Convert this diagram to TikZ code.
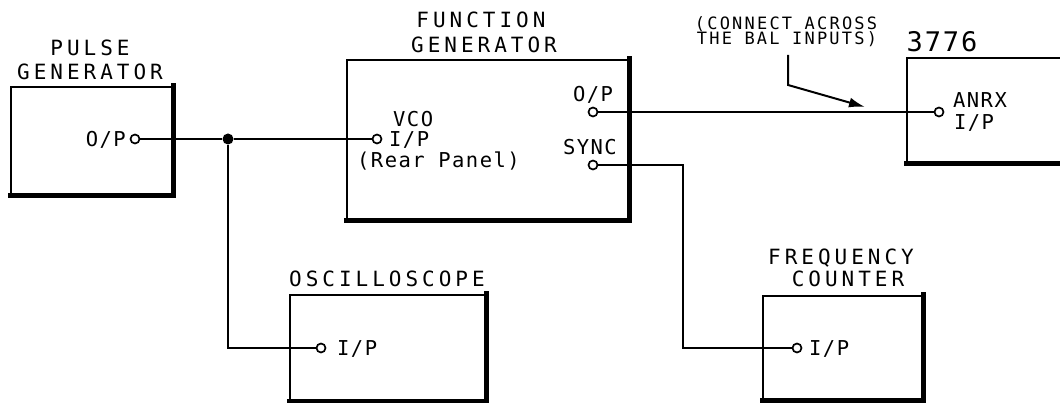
\documentclass[tikz,border=0pt]{standalone}
\usepackage{fontspec}
\usetikzlibrary{arrows.meta}
\newfontfamily\titlef[LetterSpace=19]{DejaVu Sans Mono}
\newfontfamily\labf[LetterSpace=7]{DejaVu Sans Mono}
\newfontfamily\notef[LetterSpace=13]{DejaVu Sans Mono}
\tikzset{
  ttl/.style={font=\titlef\fontsize{21}{24}\selectfont, inner sep=0, anchor=base},
  lab/.style={font=\labf\fontsize{20.5}{24}\selectfont, inner sep=0, anchor=base},
  note/.style={font=\notef\fontsize{17}{19}\selectfont, inner sep=0, anchor=base},
  unit/.style={draw, line width=2pt, inner sep=0, rectangle},
  shadow/.style={line width=5pt, line cap=rect},
  wire/.style={line width=1.8pt},
  port/.style={circle, draw, line width=1.7pt, fill=white, inner sep=0, minimum size=9pt},
  junc/.style={circle, fill=black, inner sep=0, minimum size=11pt},
}
\begin{document}
\begin{tikzpicture}[x=1pt,y=-1pt]
\clip (0,0) rectangle (1060,403);
\fill[white] (0,0) rectangle (1060,403);
% boxes
\node[unit, minimum width=161pt, minimum height=108pt] (pg) at (91.5,141) {};
\node[unit, minimum width=281pt, minimum height=160pt] (fg) at (487.5,140) {};
\node[unit, minimum width=168pt, minimum height=105pt] (rx) at (991,110.5) {};
\node[unit, minimum width=195pt, minimum height=105pt] (osc) at (387.5,347.5) {};
\node[unit, minimum width=159pt, minimum height=103pt] (fc) at (842.5,347.5) {};
\foreach \b in {pg,fg,rx,osc,fc}
  \draw[shadow] (\b.north east) -- (\b.south east) -- (\b.south west);
% titles
\node[ttl] (t1a) at (90,56) {PULSE};
\node[ttl] (t1b) at (90,80) {GENERATOR};
\node[ttl] (t2a) at (481,28) {FUNCTION};
\node[ttl] (t2b) at (484,53) {GENERATOR};
\node[ttl] (t3) at (387,287) {OSCILLOSCOPE};
\node[ttl] (t4a) at (841,265) {FREQUENCY};
\node[ttl] (t4b) at (848,287) {COUNTER};
\node[lab, font=\labf\fontsize{27}{30}\selectfont] (t5) at (942,52) {3776};
% annotation
\node[note] (n1) at (786,30) {(CONNECT ACROSS};
\node[note] (n2) at (787,45) {THE BAL INPUTS)};
% labels
\node[lab, anchor=base east] (l1) at (126,147) {O/P};
\node[lab, anchor=base west] (l2) at (393,127) {VCO};
\node[lab, anchor=base west] (l3) at (389,147) {I/P};
\node[lab, anchor=base west] (l4) at (357,168) {(Rear Panel)};
\node[lab] (l5) at (593,102) {O/P};
\node[lab] (l6) at (590,155) {SYNC};
\node[lab] (l7) at (980,108) {ANRX};
\node[lab] (l8) at (974,130) {I/P};
\node[lab, anchor=base west] (l9) at (337,355) {I/P};
\node[lab, anchor=base west] (l10) at (809,355) {I/P};
% ports
\node[port] (pgO) at (135,139) {};
\node[port] (vco) at (377,139) {};
\node[port] (fgO) at (593,112) {};
\node[port] (sync) at (593,165) {};
\node[port] (anrx) at (939,112) {};
\node[port] (oscIn) at (321,348) {};
\node[port] (fcIn) at (797,348) {};
\node[junc] (j) at (228,139) {};
\coordinate (c1) at (683,165);
% wires
\draw[wire] (pgO) -- (j) -- (vco);
\draw[wire] (j) |- (oscIn);
\draw[wire] (fgO) -- (anrx);
\draw[wire] (sync) -- (c1) |- (fcIn);
% arrow
\coordinate (a1) at (788,55);
\coordinate (a2) at (788,85);
\coordinate (a3) at (865,107);
\draw[line width=2pt, -{Latex[length=16pt,width=10pt]}] (a1) -- (a2) -- (a3);
\end{tikzpicture}
\end{document}
